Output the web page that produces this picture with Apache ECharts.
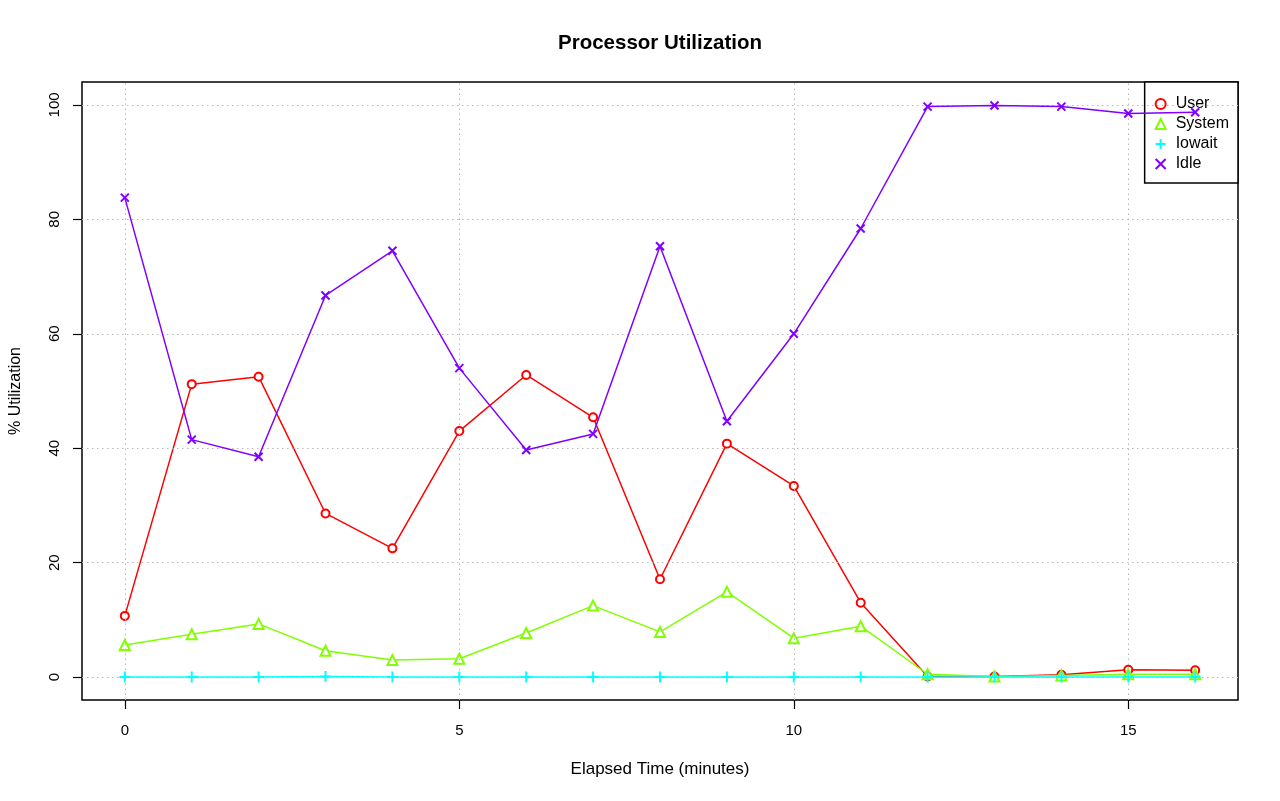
<!DOCTYPE html>
<html>
<head>
<meta charset="utf-8">
<script src="https://cdn.jsdelivr.net/npm/echarts@6/dist/echarts.min.js"></script>
<style>html,body{margin:0;padding:0;background:#fff}#chart{width:1280px;height:801px}</style>
</head>
<body>
<div id="chart"></div>
<script>
const minutes = [0,1,2,3,4,5,6,7,8,9,10,11,12,13,14,15,16];
const userPct = [10.7,51.2,52.5,28.6,22.5,43.0,52.8,45.4,17.1,40.8,33.4,13.0,0.1,0.1,0.4,1.3,1.2];
const systemPct = [5.6,7.5,9.3,4.6,3.0,3.2,7.7,12.5,7.9,14.9,6.8,8.9,0.5,0.1,0.3,0.5,0.5];
const iowaitPct = [0,0,0,0.1,0,0,0,0,0,0,0,0,0,0,0,0,0];
const idlePct = [83.8,41.5,38.5,66.7,74.5,54.0,39.7,42.5,75.3,44.7,60.0,78.4,99.7,99.9,99.7,98.5,98.7];
const seriesNames = ['User','System','Iowait','Idle'];
const xTicks = [0,5,10,15];
const yTicks = [0,20,40,60,80,100];

const FONT = "'Liberation Sans', Arial, Helvetica, sans-serif";
const colors = ['#FF0000','#80FF00','#00FFFF','#8000FF'];
const symbols = ['emptyCircle','emptyTriangle','path://M5,0L5,10M0,5L10,5','path://M0,0L10,10M10,0L0,10'];
const symbolSizes = [8,10,11,8];
const strokeWidths = [1.5,1.5,2,2];
const values = [userPct, systemPct, iowaitPct, idlePct];

const chart = echarts.init(document.getElementById('chart'), null, {renderer:'canvas'});

const dataSeries = seriesNames.map((name, k) => ({
  name: name,
  type: 'line',
  z: 3 + k,
  data: minutes.map((m, i) => [m, values[k][i]]),
  symbol: symbols[k],
  symbolSize: symbolSizes[k],
  showAllSymbol: true,
  color: colors[k],
  itemStyle: {color: colors[k], borderColor: colors[k], borderWidth: strokeWidths[k]},
  lineStyle: {color: colors[k], width: 1.5},
  emphasis: {disabled: true},
  animation: false
}));

const gridSeries = {
  name: 'grid',
  type: 'line',
  data: [],
  z: 1,
  silent: true,
  animation: false,
  markLine: {
    silent: true,
    symbol: ['none','none'],
    label: {show: false},
    animation: false,
    lineStyle: {color: '#B8B8B8', width: 1, type: [1.5, 3.5]},
    emphasis: {disabled: true},
    data: xTicks.map(v => ({xAxis: v})).concat(yTicks.map(v => ({yAxis: v})))
  }
};

chart.setOption({
  animation: false,
  backgroundColor: '#ffffff',
  textStyle: {fontFamily: FONT},
  title: {
    text: 'Processor Utilization',
    left: 655,
    textAlign: 'center',
    top: 28,
    textStyle: {fontFamily: FONT, fontSize: 20.5, fontWeight: 'bold', color: '#000'}
  },
  grid: {
    left: 82, right: 42, top: 82, bottom: 101,
    containLabel: false,
    outerBoundsMode: 'none',
    show: true, borderColor: '#000', borderWidth: 1.5, backgroundColor: 'transparent'
  },
  legend: {
    orient: 'vertical',
    right: 42,
    top: 82,
    backgroundColor: '#fff',
    borderColor: '#000',
    borderWidth: 1.5,
    borderRadius: 0,
    padding: [14, 9, 11, 10],
    itemGap: 4,
    itemWidth: 10,
    itemHeight: 10,
    selectedMode: false,
    textStyle: {fontFamily: FONT, fontSize: 16, color: '#000', padding: [0,0,0,5]},
    data: seriesNames.map((name, k) => ({
      name: name,
      icon: symbols[k],
      itemStyle: {color: colors[k], borderColor: colors[k], borderWidth: strokeWidths[k]}
    }))
  },
  xAxis: {
    type: 'value',
    min: -0.64,
    max: 16.64,
    name: 'Elapsed Time (minutes)',
    nameLocation: 'middle',
    nameGap: 61,
    nameTextStyle: {fontFamily: FONT, fontSize: 17, color: '#000'},
    axisLine: {show: false, onZero: false},
    axisTick: {show: true, length: 9, customValues: xTicks, lineStyle: {color: '#000', width: 1.2}},
    axisLabel: {customValues: xTicks, fontFamily: FONT, fontSize: 15, color: '#000', margin: 23},
    splitLine: {show: false}
  },
  yAxis: {
    type: 'value',
    min: -4,
    max: 104,
    name: '% Utilization',
    nameLocation: 'middle',
    nameGap: 58,
    nameTextStyle: {fontFamily: FONT, fontSize: 16, color: '#000'},
    axisLine: {show: false, onZero: false},
    axisTick: {show: true, length: 9, customValues: yTicks, lineStyle: {color: '#000', width: 1.2}},
    axisLabel: {customValues: yTicks, rotate: 90, fontFamily: FONT, fontSize: 15, color: '#000', margin: 20},
    splitLine: {show: false}
  },
  series: [gridSeries].concat(dataSeries)
});
</script>
</body>
</html>
